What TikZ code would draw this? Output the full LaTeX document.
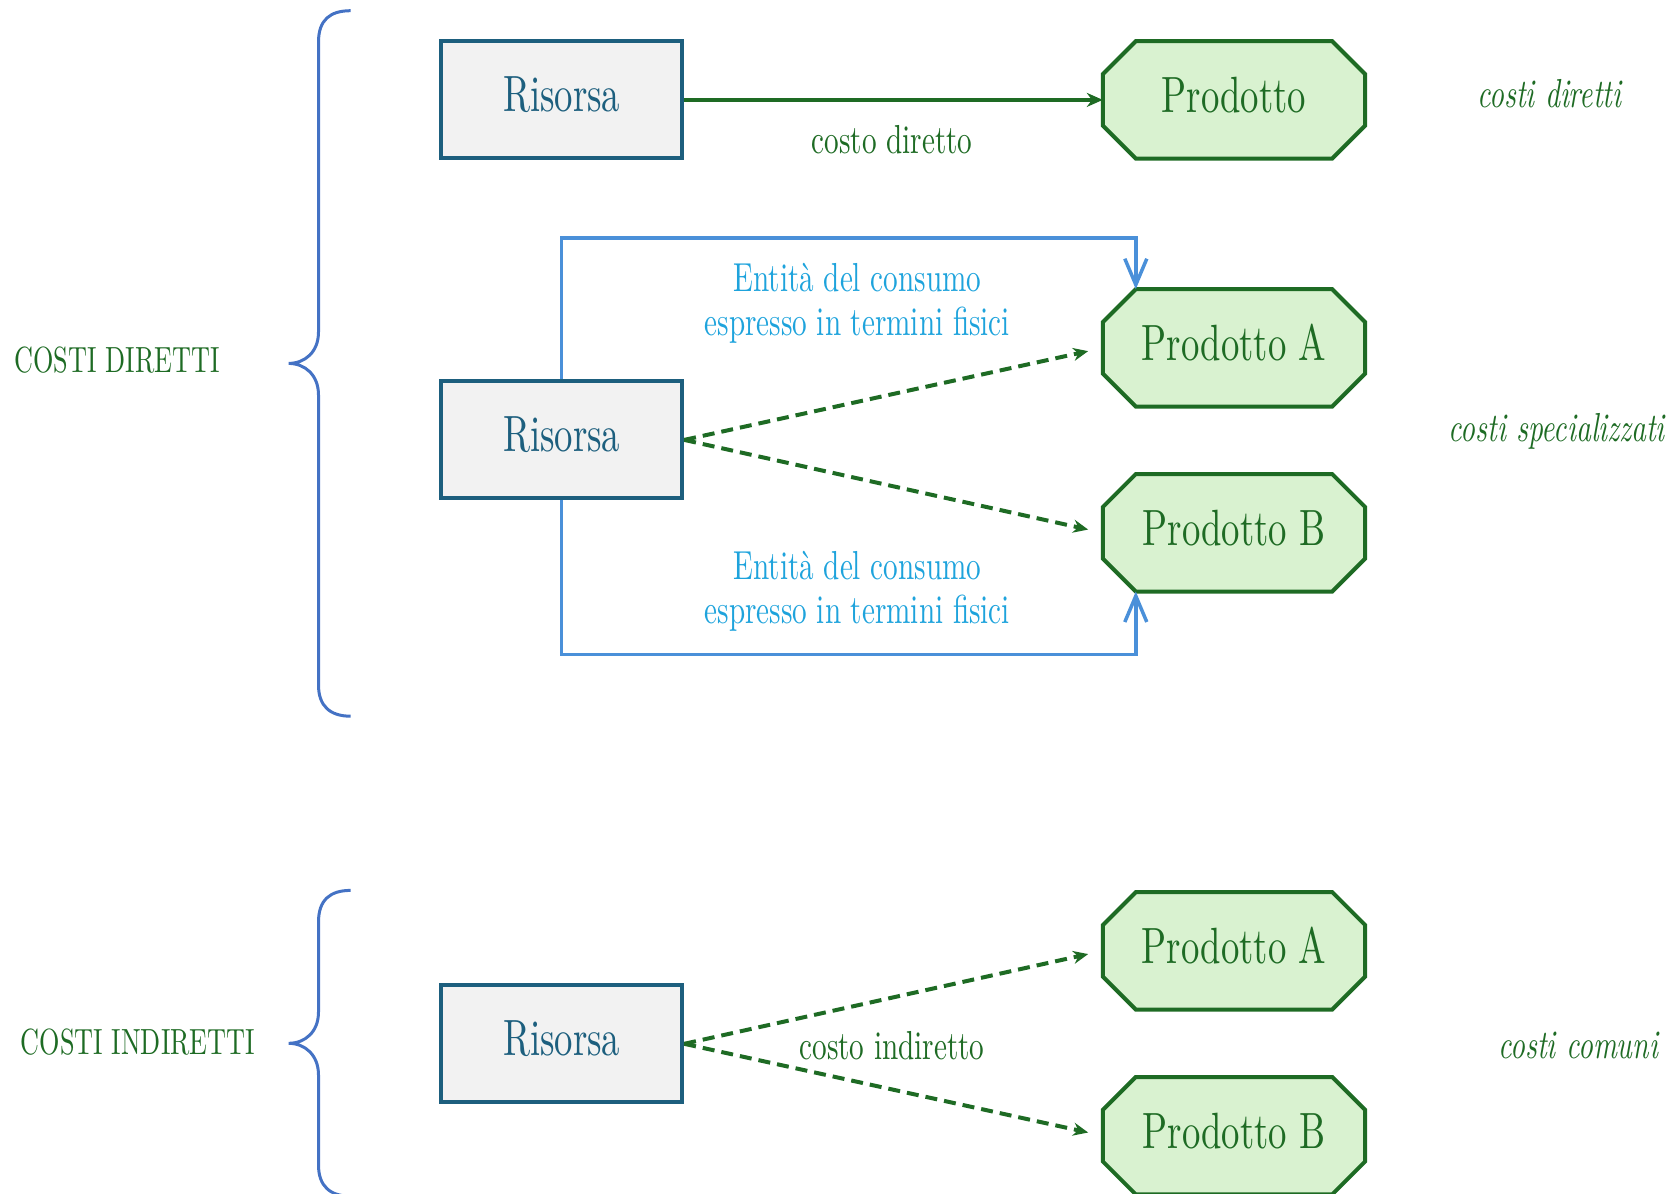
\documentclass[tikz,border=0pt]{standalone}
\usepackage{graphicx}
\usetikzlibrary{arrows.meta,calc,backgrounds}
\definecolor{rblue}{HTML}{1D5F7E}
\definecolor{rfill}{HTML}{F2F2F2}
\definecolor{pgreen}{HTML}{1E6B24}
\definecolor{pfill}{HTML}{D9F2D0}
\definecolor{cyanlab}{HTML}{1EA3DC}
\definecolor{flowblue}{HTML}{4A90D9}
\definecolor{braceblue}{HTML}{4472C4}
% text set at 10pt design size, then stretched
\newcommand{\txtL}[1]{\raisebox{5pt}[\height][\depth]{\scalebox{3.672}[5.1]{#1}}}
\newcommand{\txtM}[1]{\scalebox{2.916}[4.05]{#1}}
\newcommand{\txtS}[1]{\scalebox{2.621}[3.64]{#1}}
\begin{document}
\begin{tikzpicture}[x=1pt,y=-1pt,
  res/.style={draw=rblue, fill=rfill, line width=4pt, minimum width=241pt, minimum height=117pt, inner sep=0pt, text=rblue, font=\fontsize{10}{11}\selectfont},
  prod/.style={minimum width=262pt, minimum height=117pt, inner sep=0pt, text=pgreen, font=\fontsize{10}{11}\selectfont},
  octo/.style={draw=pgreen, fill=pfill, line width=4pt, line join=miter},
  glabel/.style={inner sep=0pt, text=pgreen, font=\fontsize{10}{11}\selectfont},
  ilabel/.style={inner sep=0pt, text=pgreen, font=\fontsize{10}{11}\selectfont\itshape},
  slabel/.style={inner sep=0pt, text=pgreen, font=\fontsize{10}{11}\selectfont},
  clabel/.style={inner sep=0pt, text=cyanlab, font=\fontsize{10}{10.86}\selectfont},
  garrow/.style={draw=pgreen, line width=4pt, -{Stealth[length=16pt,width=14pt]}},
  gdash/.style={draw=pgreen, line width=4pt, dash pattern=on 12pt off 7pt, shorten >=15pt, -{Stealth[length=15pt,width=13pt]}},
  bflow/.style={draw=flowblue, line width=3.5pt, -{Straight Barb[length=26pt,width=22pt,line width=3.5pt]}},
  brace/.style={draw=braceblue, line width=3pt}
]
\useasboundingbox (0,0) rectangle (1676,1194);

% braces
\draw[brace] (350.6,10.7) .. controls (330,10.7) and (318.5,20) .. (318.5,42) -- (318.5,332) .. controls (318.5,352) and (305,363.4) .. (288.6,363.4) .. controls (305,363.4) and (318.5,375) .. (318.5,395) -- (318.5,685) .. controls (318.5,706) and (330,716.2) .. (350.6,716.2);
\draw[brace] (350.6,890.4) .. controls (330,890.4) and (318.5,900) .. (318.5,922) -- (318.5,1012) .. controls (318.5,1032) and (305,1043.3) .. (288.6,1043.3) .. controls (305,1043.3) and (318.5,1055) .. (318.5,1075) -- (318.5,1165) .. controls (318.5,1186) and (330,1196.2) .. (350.6,1196.2);

\node[slabel] (cd) at (117,360.2) {\txtS{COSTI DIRETTI}};
\node[slabel] (ci) at (137.9,1042.2) {\txtS{COSTI INDIRETTI}};

% nodes
\node[res] (r1) at (561.7,99.9) {\txtL{Risorsa}};
\node[prod] (p1) at (1234,99.9) {\txtL{Prodotto}};
\node[res] (r2) at (561.7,439.9) {\txtL{Risorsa}};
\node[prod] (pa1) at (1234,347.9) {\txtL{Prodotto A}};
\node[prod] (pb1) at (1234,532.8) {\txtL{Prodotto B}};
\node[res] (r3) at (561.7,1043.8) {\txtL{Risorsa}};
\node[prod] (pa2) at (1234,950.8) {\txtL{Prodotto A}};
\node[prod] (pb2) at (1234,1135.7) {\txtL{Prodotto B}};

\begin{scope}[on background layer]
\foreach \n in {p1,pa1,pb1,pa2,pb2}{
  \draw[octo] ([xshift=33pt]\n.north west) -- ([xshift=-33pt]\n.north east) -- ([yshift=-33pt]\n.north east) -- ([yshift=33pt]\n.south east) -- ([xshift=-33pt]\n.south east) -- ([xshift=33pt]\n.south west) -- ([yshift=33pt]\n.south west) -- ([yshift=-33pt]\n.north west) -- cycle;
}
\end{scope}

% connectors
\draw[garrow] (r1.east) -- (p1.west);
\draw[gdash] (r2.east) -- (pa1.west);
\draw[gdash] (r2.east) -- (pb1.west);
\draw[gdash] (r3.east) -- (pa2.west);
\draw[gdash] (r3.east) -- (pb2.west);

\coordinate (ta) at ([xshift=33pt]pa1.north west);
\coordinate (tb) at ([xshift=33pt]pb1.south west);
\draw[bflow] (r2.north) |- ($(ta)+(0,-51)$) -- (ta);
\draw[bflow] (r2.south) |- ($(tb)+(0,63)$) -- (tb);

% labels
\node[glabel] (l1) at (892,140) {\txtM{costo diretto}};
\node[glabel] (l2) at (892,1045.4) {\txtM{costo indiretto}};
\node[clabel, anchor=north] (e1) at (857.3,261) {\txtM{\begin{tabular}{@{}c@{}}Entità del consumo\\espresso in termini fisici\end{tabular}}};
\node[clabel, anchor=north] (e2) at (857.3,548.5) {\txtM{\begin{tabular}{@{}c@{}}Entità del consumo\\espresso in termini fisici\end{tabular}}};

\node[ilabel] (k1) at (1549.4,94.1) {\txtM{costi diretti}};
\node[ilabel] (k2) at (1556.8,431.8) {\txtM{costi specializzati}};
\node[ilabel] (k3) at (1578.2,1045.4) {\txtM{costi comuni}};
\end{tikzpicture}
\end{document}
